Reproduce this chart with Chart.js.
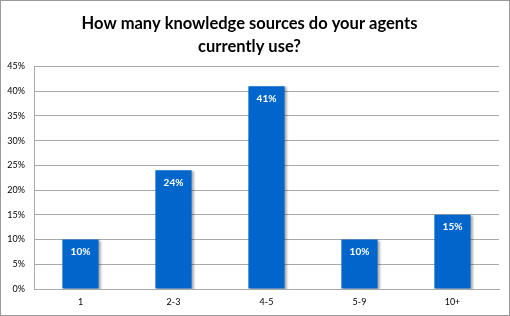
<!DOCTYPE html>
<html>
<head>
<meta charset="utf-8">
<script src="https://cdn.jsdelivr.net/npm/chart.js@4"></script>
<style>
  html, body { margin: 0; padding: 0; background: #fff; }
  #wrap { width: 510px; height: 316px; position: relative; }
</style>
</head>
<body>
<div id="wrap"><canvas id="chart" width="510" height="316"></canvas></div>
<script>
const categories = ['1', '2-3', '4-5', '5-9', '10+'];
const shares = [10, 24, 41, 10, 15];
const titleLines = ['How many knowledge sources do your agents', 'currently use?'];

const fontFamily = 'Lato, "Open Sans", sans-serif';
const gridColor = '#a9a9a9';
const barColor = '#0066cc';

// value labels inside top of bars
const valueLabels = {
  id: 'valueLabels',
  afterDatasetsDraw(chart) {
    const c = chart.ctx;
    const meta = chart.getDatasetMeta(0);
    c.save();
    c.fillStyle = '#fff';
    c.font = 'bold 10px ' + fontFamily;
    c.textAlign = 'center';
    c.textBaseline = 'middle';
    meta.data.forEach((bar, i) => {
      c.fillText(shares[i] + '%', bar.x, bar.y + 12);
    });
    c.restore();
  }
};

// soft shadow on the bars + outer frame
const barShadow = {
  id: 'barShadow',
  beforeDatasetsDraw(chart) {
    const c = chart.ctx;
    c.save();
    c.shadowColor = 'rgba(0,0,0,0.3)';
    c.shadowOffsetX = 2;
    c.shadowOffsetY = 1;
    c.shadowBlur = 2;
  },
  afterDatasetsDraw(chart) {
    chart.ctx.restore();
  },
  afterDraw(chart) {
    const c = chart.ctx;
    c.save();
    c.strokeStyle = '#9a9a9a';
    c.lineWidth = 1;
    c.strokeRect(0.5, 0.5, chart.width - 1, chart.height - 1);
    c.restore();
  }
};

new Chart(document.getElementById('chart'), {
  type: 'bar',
  data: {
    labels: categories,
    datasets: [{
      data: shares,
      backgroundColor: barColor,
      categoryPercentage: 1,
      barPercentage: 0.39
    }]
  },
  options: {
    responsive: false,
    animation: false,
    layout: { padding: { left: 0, right: 11, top: 0, bottom: 0 } },
    plugins: {
      legend: { display: false },
      tooltip: { enabled: false },
      title: {
        display: true,
        text: titleLines,
        color: '#000',
        font: { family: fontFamily, size: 16.5, weight: 'bold', lineHeight: 1.35 },
        padding: { top: 13, bottom: 9 }
      }
    },
    scales: {
      x: {
        grid: { display: false, drawTicks: false },
        border: { color: gridColor },
        ticks: { color: '#000', font: { family: fontFamily, size: 9 }, padding: 8 },
        afterFit: s => { s.height = 27; }
      },
      y: {
        min: 0,
        max: 45,
        grid: { color: gridColor, drawTicks: false },
        border: { color: gridColor },
        ticks: {
          stepSize: 5,
          color: '#000',
          font: { family: fontFamily, size: 9 },
          padding: 9,
          callback: v => v + '%'
        },
        afterFit: s => { s.width = 34; }
      }
    }
  },
  plugins: [barShadow, valueLabels]
});
</script>
</body>
</html>
